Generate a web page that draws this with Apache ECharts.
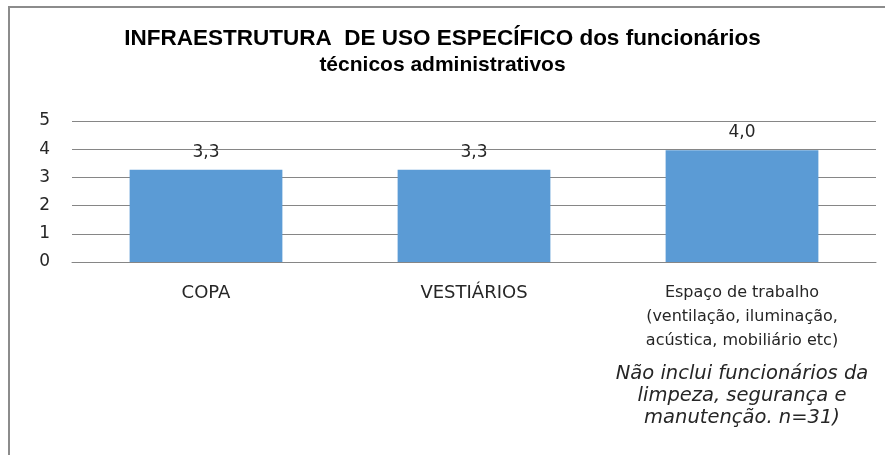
<!DOCTYPE html>
<html>
<head>
<meta charset="utf-8">
<script src="https://cdn.jsdelivr.net/npm/echarts@6/dist/echarts.min.js"></script>
<style>html,body{margin:0;padding:0;background:#fff;}#c{width:885px;height:455px;}</style>
</head>
<body>
<div id="c"></div>
<script>
var titleLines = ['INFRAESTRUTURA  DE USO ESPECÍFICO dos funcionários', 'técnicos administrativos'];
var categories = ['COPA', 'VESTIÁRIOS', 'Espaço de trabalho\n(ventilação, iluminação,\nacústica, mobiliário etc)'];
var noteLines = ['Não inclui funcionários da', 'limpeza, segurança e', 'manutenção. n=31)'];
var values = [3.27, 3.27, 3.96];
var yTicks = [0, 1, 2, 3, 4, 5];

var chart = echarts.init(document.getElementById('c'));
chart.setOption({
  animation: false,
  backgroundColor: '#fff',
  title: {
    text: '{a|' + titleLines[0] + '}\n{b|' + titleLines[1] + '}',
    left: 'center',
    top: 20,
    textStyle: {
      rich: {
        a: {
          fontFamily: '"Liberation Sans", Arial, sans-serif',
          fontWeight: 'bold', fontSize: 22.5, lineHeight: 27, color: '#000'
        },
        b: {
          fontFamily: '"Liberation Sans", Arial, sans-serif',
          fontWeight: 'bold', fontSize: 21, lineHeight: 27, color: '#000'
        }
      }
    }
  },
  graphic: [{
    type: 'polyline',
    shape: { points: [[9, 455], [9, 7], [885, 7]] },
    style: { stroke: '#8c8c8c', lineWidth: 2, fill: null },
    silent: true
  }],
  grid: { left: 72, right: 9, top: 121, bottom: 193 },
  xAxis: {
    type: 'category',
    data: categories,
    axisLine: { lineStyle: { color: '#868686', width: 1 } },
    axisTick: { show: false },
    axisLabel: {
      interval: 0,
      margin: 19,
      color: '#262626',
      fontFamily: '"DejaVu Sans", Verdana, sans-serif',
      fontSize: 16,
      lineHeight: 24,
      formatter: function (v, i) {
        if (i === 2) {
          return v + '\n{gap|}\n' + noteLines.map(function (l) { return '{note|' + l + '}'; }).join('\n');
        }
        return '{cap|' + v + '}';
      },
      rich: {
        cap: {
          fontFamily: '"DejaVu Sans", Verdana, sans-serif',
          fontSize: 18, lineHeight: 24, color: '#262626'
        },
        gap: { height: 10, lineHeight: 10 },
        note: {
          fontFamily: '"DejaVu Sans", Verdana, sans-serif',
          fontStyle: 'italic',
          fontSize: 19.5,
          lineHeight: 22,
          color: '#262626'
        }
      }
    }
  },
  yAxis: {
    type: 'value',
    min: 0,
    max: 5,
    interval: 1,
    axisLine: { show: false },
    axisTick: { show: false },
    splitLine: { lineStyle: { color: '#868686', width: 1 } },
    axisLabel: {
      margin: 22,
      color: '#262626',
      fontFamily: '"DejaVu Sans", Verdana, sans-serif',
      fontSize: 17,
      formatter: function (v) { return yTicks.indexOf(v) >= 0 ? String(v) : ''; }
    }
  },
  series: [{
    type: 'bar',
    data: values,
    barWidth: '57%',
    itemStyle: { color: '#5B9BD5' },
    label: {
      show: true,
      position: 'top',
      distance: 9,
      color: '#262626',
      fontFamily: '"DejaVu Sans", Verdana, sans-serif',
      fontSize: 17,
      formatter: function (p) { return p.value.toFixed(1).replace('.', ','); }
    }
  }]
});
</script>
</body>
</html>
